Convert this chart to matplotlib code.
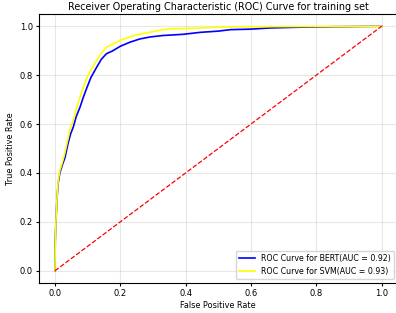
import matplotlib
matplotlib.use("Agg")
import matplotlib.pyplot as plt

bert_fpr = [0.0, 0.001, 0.003, 0.006, 0.01, 0.015, 0.022, 0.031, 0.04, 0.048, 0.056, 0.065, 0.077, 0.087, 0.097, 0.11, 0.128, 0.142, 0.158, 0.175, 0.2, 0.23, 0.26, 0.291, 0.33, 0.393, 0.445, 0.5, 0.537, 0.598, 0.66, 0.75, 0.85, 1.0]
bert_tpr = [0.0, 0.12, 0.2, 0.287, 0.36, 0.4, 0.43, 0.464, 0.52, 0.56, 0.587, 0.63, 0.67, 0.71, 0.746, 0.79, 0.833, 0.865, 0.888, 0.898, 0.918, 0.935, 0.948, 0.956, 0.962, 0.967, 0.975, 0.98, 0.986, 0.988, 0.993, 0.996, 0.998, 1.0]

svm_fpr = [0.0, 0.001, 0.003, 0.006, 0.01, 0.015, 0.022, 0.03, 0.04, 0.046, 0.056, 0.065, 0.077, 0.087, 0.097, 0.11, 0.128, 0.142, 0.158, 0.175, 0.2, 0.25, 0.29, 0.31, 0.35, 0.38, 0.45, 0.537, 0.6, 0.8, 1.0]
svm_tpr = [0.0, 0.1, 0.2, 0.29, 0.37, 0.41, 0.44, 0.48, 0.54, 0.58, 0.615, 0.66, 0.71, 0.75, 0.787, 0.82, 0.86, 0.89, 0.915, 0.925, 0.943, 0.965, 0.975, 0.981, 0.99, 0.99, 0.993, 0.997, 0.998, 0.999, 1.0]

diag = [0, 1]

bert_label = "ROC Curve for BERT(AUC = 0.92)"
svm_label = "ROC Curve for SVM(AUC = 0.93)"

fig = plt.figure(figsize=(3.96, 3.13), dpi=100)
ax = fig.add_axes([38.6 / 396, 30 / 313, 359.4 / 396, 269 / 313])
ax.plot(bert_fpr, bert_tpr, color="blue", lw=1.2, label=bert_label)
ax.plot(svm_fpr, svm_tpr, color="yellow", lw=1.2, label=svm_label)
ax.plot(diag, diag, color="red", linestyle="--", lw=0.9)
ax.grid(True, alpha=0.3)
ax.set_xlabel("False Positive Rate", fontsize=5.9, labelpad=2)
ax.set_ylabel("True Positive Rate", fontsize=5.9, labelpad=3)
ax.set_title("Receiver Operating Characteristic (ROC) Curve for training set", fontsize=6.9, pad=3)
ax.tick_params(labelsize=6.0, length=2.2, pad=2)
ax.legend(loc="lower right", fontsize=5.7, handlelength=2)
fig.savefig("out.png", dpi=100)
